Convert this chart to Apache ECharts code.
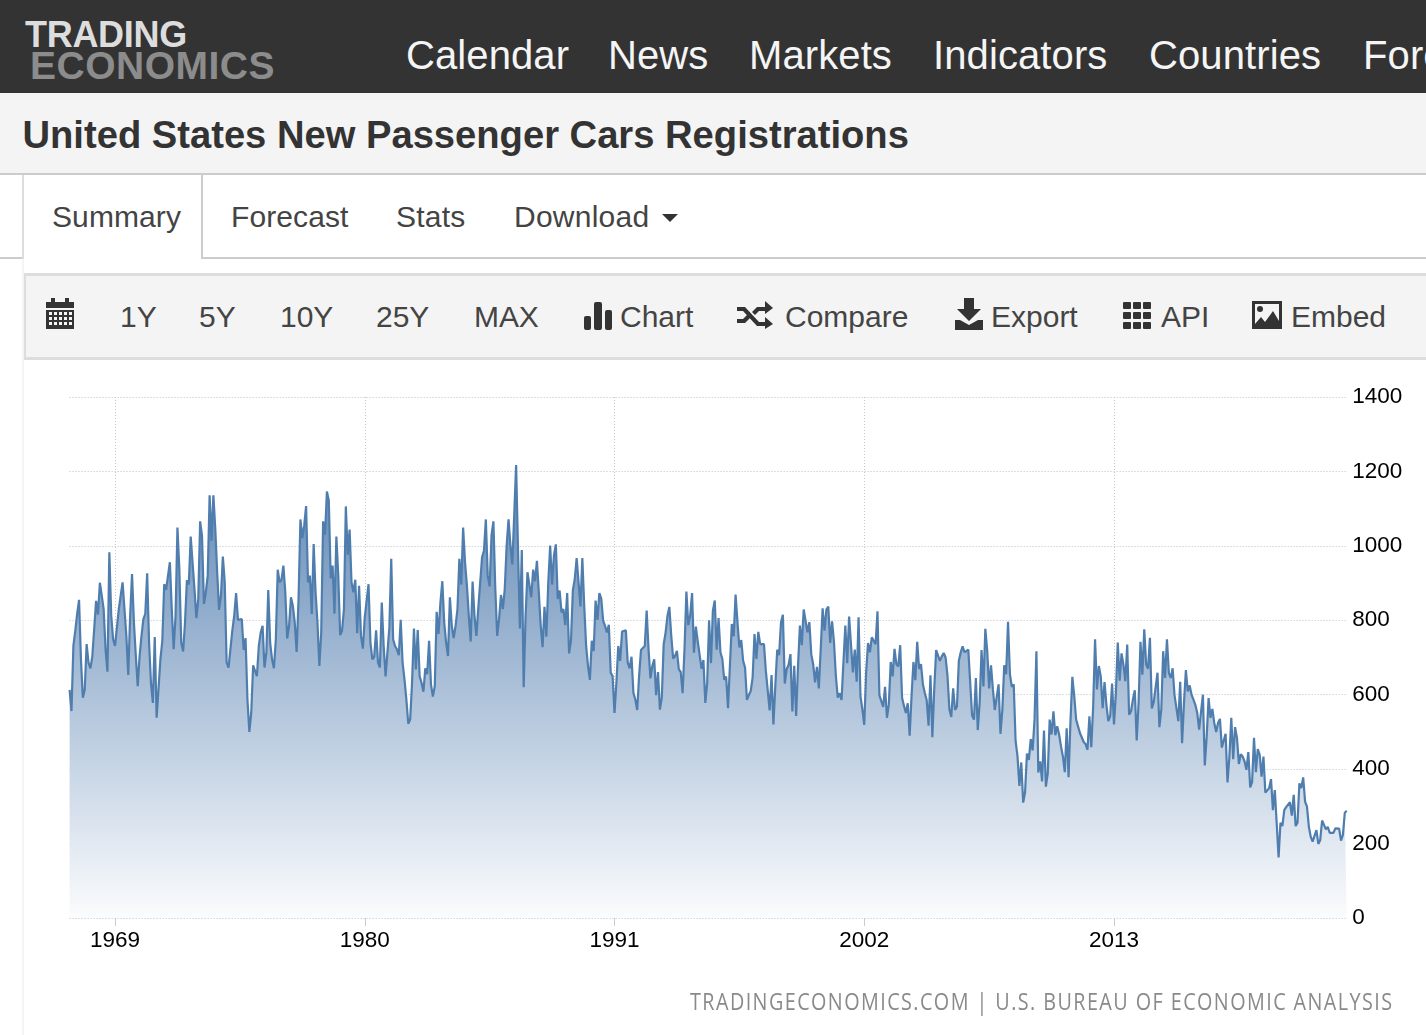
<!DOCTYPE html>
<html><head><meta charset="utf-8">
<style>
html,body{margin:0;padding:0;background:#fff;width:1426px;height:1035px;overflow:hidden;font-family:"Liberation Sans",Arial,sans-serif}
.a{position:absolute;white-space:nowrap;line-height:1}
.box{position:absolute}
svg{position:absolute}
.n{font-size:40px;color:#f5f5f5;top:35px;letter-spacing:.1px}
.t{font-size:30px;color:#444;top:202px;letter-spacing:.1px}
.b{font-size:30px;color:#444;top:302px}
</style>
<script src="https://cdn.jsdelivr.net/npm/echarts@6/dist/echarts.min.js"></script>
</head><body>
<div class="box" style="left:0;top:0;width:1426px;height:93px;background:#333"></div>
<div class="a" style="left:25px;top:17px;font-size:36px;font-weight:bold;color:#ddd;letter-spacing:-.3px">TRADING</div>
<div class="a" style="left:30px;top:46px;font-size:39px;font-weight:bold;color:#8c8c8c;letter-spacing:.5px">ECONOMICS</div>
<div class="a n" style="left:406px">Calendar</div>
<div class="a n" style="left:608px">News</div>
<div class="a n" style="left:749px">Markets</div>
<div class="a n" style="left:933px">Indicators</div>
<div class="a n" style="left:1149px">Countries</div>
<div class="a n" style="left:1363px">Forecast</div>
<div class="box" style="left:0;top:93px;width:1426px;height:80px;background:#f4f4f4;border-bottom:2px solid #ccc"></div>
<div class="a" style="left:22.5px;top:116px;font-size:38.17px;font-weight:bold;color:#333">United States New Passenger Cars Registrations</div>
<div class="box" style="left:0;top:257px;width:1426px;height:2px;background:#ccc"></div>
<div class="box" style="left:22px;top:175px;width:177px;height:84px;background:#fff;border-left:2px solid #ddd;border-right:2px solid #ccc"></div>
<div class="a t" style="left:52px">Summary</div>
<div class="a t" style="left:231px">Forecast</div>
<div class="a t" style="left:396px;letter-spacing:.25px">Stats</div>
<div class="a t" style="left:514px;letter-spacing:.25px">Download</div>
<svg style="left:662px;top:214px" width="16" height="9"><path d="M0 0H16L8 8Z" fill="#333"/></svg>
<div class="box" style="left:22px;top:259px;width:2px;height:776px;background:#f4f4f4"></div>
<div class="box" style="left:24px;top:273px;width:1402px;height:81px;background:#f4f4f4;border-top:3px solid #ddd;border-left:2px solid #ddd;border-bottom:3px solid #ddd"></div>
<svg style="left:46px;top:298px" width="28" height="32"><path d="M0 4H5V0H9V4H19V0H23V4H28V10H0Z M0 12H28V31H0Z" fill="#333"/><g fill="#f4f4f4"><rect x="3" y="14" width="3" height="3"/><rect x="8" y="14" width="3" height="3"/><rect x="13" y="14" width="3" height="3"/><rect x="18" y="14" width="3" height="3"/><rect x="23" y="14" width="3" height="3"/><rect x="3" y="19" width="3" height="3"/><rect x="8" y="19" width="3" height="3"/><rect x="13" y="19" width="3" height="3"/><rect x="18" y="19" width="3" height="3"/><rect x="23" y="19" width="3" height="3"/><rect x="3" y="24" width="3" height="3"/><rect x="8" y="24" width="3" height="3"/><rect x="13" y="24" width="3" height="3"/><rect x="18" y="24" width="3" height="3"/><rect x="23" y="24" width="3" height="3"/></g></svg>
<div class="a b" style="left:120px">1Y</div>
<div class="a b" style="left:199px">5Y</div>
<div class="a b" style="left:280px">10Y</div>
<div class="a b" style="left:376px">25Y</div>
<div class="a b" style="left:474px;letter-spacing:-.1px">MAX</div>
<svg style="left:584px;top:302px" width="28" height="28"><rect x="0" y="14" width="7" height="14" rx="2" fill="#333"/><rect x="10" y="0" width="8" height="28" rx="2" fill="#333"/><rect x="21" y="8" width="7" height="20" rx="2" fill="#333"/></svg>
<div class="a b" style="left:620px">Chart</div>
<svg style="left:737px;top:301px" width="36" height="28"><path d="M0 6H8L22 21H28V16L36 23L28 28V25H20L6 10H0Z M0 18H6L10 14L13 17L8 22H0Z M20 6H28V0L36 7L28 13V10H22L18 14L15 11Z" fill="#333"/></svg>
<div class="a b" style="left:785px">Compare</div>
<svg style="left:955px;top:298px" width="28" height="32"><path d="M9 0H19V11H26L14 23L2 11H9Z M0 22H5L14 27L23 22H28V32H0Z" fill="#333"/></svg>
<div class="a b" style="left:991px">Export</div>
<svg style="left:1123px;top:302px" width="28" height="27"><g fill="#333"><rect x="0" y="0" width="8" height="7" rx="1"/><rect x="10" y="0" width="8" height="7" rx="1"/><rect x="20" y="0" width="8" height="7" rx="1"/><rect x="0" y="10" width="8" height="7" rx="1"/><rect x="10" y="10" width="8" height="7" rx="1"/><rect x="20" y="10" width="8" height="7" rx="1"/><rect x="0" y="20" width="8" height="7" rx="1"/><rect x="10" y="20" width="8" height="7" rx="1"/><rect x="20" y="20" width="8" height="7" rx="1"/></g></svg>
<div class="a b" style="left:1161px">API</div>
<svg style="left:1252px;top:301px" width="30" height="28"><path d="M0 0H30V28H0Z" fill="#333"/><path d="M3 3H27V20L21 10L13 21L9 16L3 23Z" fill="#f4f4f4"/><circle cx="8" cy="8" r="3" fill="#333"/></svg>
<div class="a b" style="left:1291px">Embed</div>
<div id="chart" style="position:absolute;left:0;top:360px;width:1426px;height:675px"></div>
<div class="a" style="left:690px;top:990px;font-size:23px;color:#8a8a8a;font-family:'Open Sans';transform-origin:0 0;transform:scaleX(0.86);letter-spacing:1.66px">TRADINGECONOMICS.COM | U.S. BUREAU OF ECONOMIC ANALYSIS</div>
<script>
const tickLabels = ["0","200","400","600","800","1000","1200","1400"];
const yearTicks = [1969,1980,1991,2002,2013];
const startYear = 1967;
const values1 = [613,556,731,772,817,855,695,592,614,736,686,671,702,700,852,815,901,866,830,722,662,983,812,749,731,727,830,866,902,899,758,653,812,924,794,704,623,704,758,803,817,926,740,632,578,755,538,537,695,745,897,882,886,956,830,722,812,1049,938,740,716,794,908,896,1025,1021,884,806,857,1066,1026,844,875,920,1136,1014,1136,1046,929,828,866,971,902,686,673,676,772,812,873,801,801,803,720,752,587,500,551,679,664,650,731,767,785,673,713,881,740,695,671,749,936,902,909,947,875,751,785,862,839,794,715,857,1071,1021,1055,1107,902,920,817,1005,875,794,677,767,1066,1030,1146,1122,913,947,818,1025,920,760,772,830,1106,976,1044,902,875,909,765,893,758,724,808,809,897,740,695,702,773,686,673,848,731,649,647];
const values2 = [780,965,749,731,722,706,801,686,641,587,522,533,632,778,668,774,650,632,608,671,655,745,628,595,623,823,763,848,905,794,740,704,862,785,752,785,830,965,896,1049,956,893,812,743,904,812,758,832,834,969,987,1071,920,891,1028,1066,884,758,803,868,830,884,1001,1071,1001,950,950,1217,992,778,989,620,812,929,933,862,936,905,960,875,785,728,836,756,902,1001,896,974,1004,857,880,821,830,787,873,711,745,881,911,967,902,837,967,839,731,677,640,745,717,853,801,873,859,799,785,767,788,659,650,551,632,731,691,770,772,773,686,671,702,605,587,559,650,720,716,731,826,722,644,677,695,599,661,560,592,736,767,812,836,758,697,704,718,668,661,604,722,877,787,812,873,713,783,743,738,670,693,578,632,800];
const values3 = [685,826,853,721,806,714,696,640,649,564,678,790,757,869,795,727,747,691,673,586,599,610,646,763,696,769,736,736,736,664,660,558,653,520,624,721,706,795,815,630,669,680,709,555,678,543,678,786,733,829,829,768,795,709,682,633,675,617,723,832,772,829,837,739,797,742,651,592,604,586,687,786,685,810,806,660,721,635,808,596,561,519,660,739,714,754,756,736,824,599,598,567,621,538,574,688,649,723,682,676,733,592,570,551,577,490,596,688,639,742,669,682,628,605,586,517,652,486,615,720,715,691,703,712,700,651,561,540,617,559,568,691,714,730,714,714,721,633,544,533,645,505,578,720,622,777,718,617,679,615,559,562,628,495,560,679,655,796,655,621,628,475,435,355,418,310,338,442];
const values4 = [425,481,450,533,717,391,421,367,504,353,389,533,493,555,491,515,493,461,434,392,510,378,529,648,596,533,515,497,495,473,467,452,542,459,569,749,614,677,650,564,634,573,529,542,630,520,605,740,638,711,681,636,735,546,555,587,612,477,578,742,654,776,681,670,753,563,580,580,659,513,560,717,645,749,659,645,671,599,598,529,635,470,578,666,609,625,600,587,573,551,506,506,600,410,488,591,538,562,524,500,524,535,458,461,495,364,434,538,427,513,484,414,440,434,421,398,446,351,365,484,392,454,439,380,434,337,340,349,373,290,344,254,163,256,247,290,298,301,311,275,331,247,256,362,349,378,313,299,245,218,205,200,236,199,209,262,259,238,245,229,232,229,241,238,240,208,223,283,288];
const values = [...values1, ...values2, ...values3, ...values4];
const months = values.map((_, i) => (startYear + Math.floor(i / 12)) + '-' + String(i % 12 + 1).padStart(2, '0'));
const isYearTick = (i, v) => yearTicks.includes(+v.slice(0, 4)) && v.endsWith('-01');
const chart = echarts.init(document.getElementById('chart'), null, {renderer: 'canvas'});
chart.setOption({
  animation: false,
  grid: {left: 69.6, right: 79.3, top: 37, height: 521, containLabel: false},
  xAxis: {
    type: 'category', data: months, boundaryGap: false,
    axisLine: {show: false},
    axisTick: {show: true, interval: isYearTick, length: 8, lineStyle: {color: '#ccc', width: 1}},
    axisLabel: {interval: isYearTick, formatter: v => v.slice(0, 4), color: '#000', fontSize: 22.5, fontFamily: 'Liberation Sans', margin: 11, hideOverlap: false},
    splitLine: {show: true, interval: isYearTick, lineStyle: {color: '#c4c8cc', type: [1, 2], width: 1}}
  },
  yAxis: {
    type: 'value', position: 'right', min: 0, max: 1400, interval: 200,
    axisLine: {show: false}, axisTick: {show: false},
    axisLabel: {color: '#000', fontSize: 22.5, fontFamily: 'Liberation Sans', margin: 5.5, align: 'left', padding: [4, 0, 0, 0], formatter: (v) => tickLabels[v / 200]},
    splitLine: {show: true, lineStyle: {color: '#bcc0c4', type: [1, 2], width: 1}}
  },
  series: [{
    type: 'line', data: values, showSymbol: false, smooth: false,
    lineStyle: {color: '#4f7eae', width: 2.2},
    areaStyle: {opacity: 1, color: {type: 'linear', x: 0, y: 0, x2: 0, y2: 1, colorStops: [{offset: 0, color: '#5f87b5'}, {offset: 1, color: '#fbfcfd'}]}}
  }]
});
</script>
</body></html>
